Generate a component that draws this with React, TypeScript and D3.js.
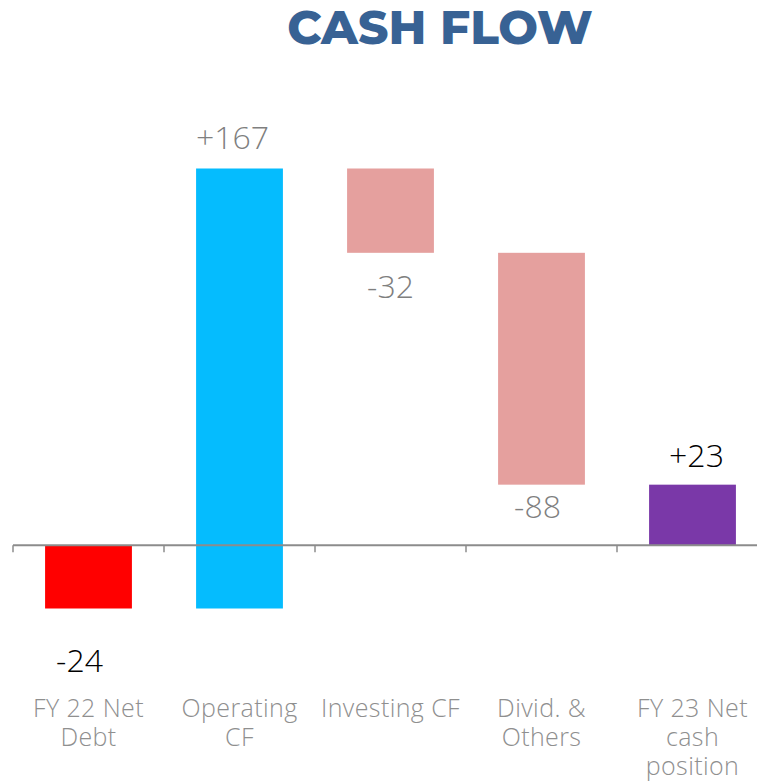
import React from "react";
import * as d3 from "d3";

const categories: string[][] = [
  ["FY 22 Net", "Debt"],
  ["Operating", "CF"],
  ["Investing CF"],
  ["Divid. &", "Others"],
  ["FY 23 Net", "cash", "position"],
];
const deltas: number[] = [-24, 167, -32, -88];
const valueLabels: string[] = ["-24", "+167", "-32", "-88", "+23"];
const barColors: string[] = ["#FF0000", "#05BCFE", "#E5A09E", "#E5A09E", "#7A38A8"];
const labelColors: string[] = ["#000000", "#7F7F7F", "#7F7F7F", "#7F7F7F", "#000000"];
// label placement relative to bar edge (layout only)
const labelDy: number[] = [52, -31, 34, 22, -29];
const labelDx: number[] = [-9, -7, 0, -4, 4];

export default function App() {
  const W = 757;
  const H = 783;
  const segs: { start: number; end: number; up: boolean }[] = [];
  let cum = 0;
  deltas.forEach((d, i) => {
    if (i === 0) {
      segs.push({ start: 0, end: d, up: d > 0 });
      cum = d;
    } else {
      segs.push({ start: cum, end: cum + d, up: d > 0 });
      cum += d;
    }
  });
  segs.push({ start: 0, end: cum, up: cum > 0 });

  const step = 151;
  const x = d3
    .scaleBand<number>()
    .domain(d3.range(categories.length))
    .range([13, 13 + step * categories.length])
    .paddingInner(0.425)
    .paddingOuter(0.2125);
  const y = d3.scaleLinear().domain([-24, 143]).range([608.5, 168.5]);

  const fontFam = "'Open Sans', 'DejaVu Sans', sans-serif";
  const ticks = d3.range(categories.length + 1).map((i) => 13 + i * step);

  return (
    <svg width={W} height={H} style={{ position: "absolute", left: 0, top: 0, background: "#fff" }}>
      <text
        x={440}
        y={44}
        textAnchor="middle"
        fontFamily="Montserrat, 'Open Sans', sans-serif"
        fontWeight={800}
        fontSize={47}
        fill="#386294"
      >
        CASH FLOW
      </text>
      {segs.map((s, i) => {
        const y0 = y(Math.max(s.start, s.end));
        const y1 = y(Math.min(s.start, s.end));
        return (
          <rect key={i} x={x(i)!} y={y0} width={x.bandwidth()} height={y1 - y0} fill={barColors[i]} />
        );
      })}
      <line x1={13} x2={W} y1={y(0)} y2={y(0)} stroke="#8C8C8C" strokeWidth={2} />
      {ticks.map((t, i) => (
        <line key={i} x1={t} x2={t} y1={y(0)} y2={y(0) + 7} stroke="#8C8C8C" strokeWidth={1.5} />
      ))}
      {segs.map((s, i) => {
        const cx = x(i)! + x.bandwidth() / 2 + labelDx[i];
        const top = y(Math.max(s.start, s.end));
        const bot = y(Math.min(s.start, s.end));
        const edge = s.up ? top : bot;
        const cy = edge + labelDy[i];
        return (
          <text
            key={i}
            x={cx}
            y={cy + 11.5}
            textAnchor="middle"
            fontFamily={fontFam}
            fontWeight={300}
            fontSize={32}
            fill={labelColors[i]}
          >
            {valueLabels[i]}
          </text>
        );
      })}
      {categories.map((lines, i) => {
        const cx = x(i)! + x.bandwidth() / 2;
        return (
          <g key={i}>
            {lines.map((l, j) => (
              <text
                key={j}
                x={cx}
                y={717 + j * 29}
                textAnchor="middle"
                fontFamily={fontFam}
                fontWeight={300}
                fontSize={25}
                letterSpacing={0.4}
                fill="#8F8F8F"
              >
                {l}
              </text>
            ))}
          </g>
        );
      })}
    </svg>
  );
}
